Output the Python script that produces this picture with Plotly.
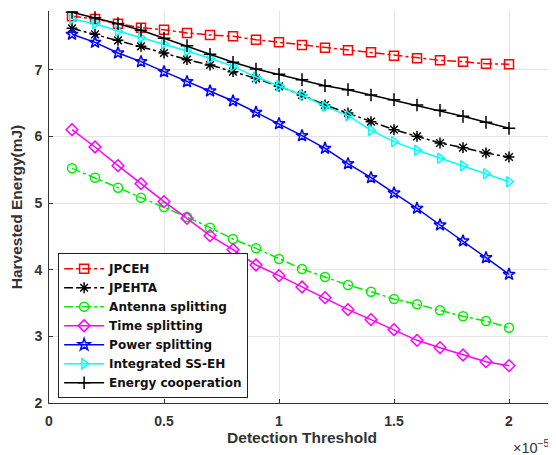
import plotly.graph_objects as go

threshold = [0.1, 0.2, 0.3, 0.4, 0.5, 0.6, 0.7, 0.8, 0.9, 1.0,
             1.1, 1.2, 1.3, 1.4, 1.5, 1.6, 1.7, 1.8, 1.9, 2.0]  # x 1e-5

jpceh = [7.80, 7.76, 7.69, 7.63, 7.60, 7.55, 7.52, 7.50, 7.45, 7.41,
         7.37, 7.33, 7.29, 7.26, 7.21, 7.17, 7.14, 7.12, 7.09, 7.08]
jpehta = [7.62, 7.53, 7.44, 7.35, 7.25, 7.15, 7.07, 6.97, 6.87, 6.75,
          6.62, 6.47, 6.35, 6.22, 6.10, 6.00, 5.90, 5.83, 5.75, 5.69]
antenna = [5.52, 5.38, 5.23, 5.08, 4.94, 4.79, 4.63, 4.46, 4.32, 4.16,
           4.01, 3.89, 3.77, 3.67, 3.56, 3.48, 3.39, 3.30, 3.23, 3.13]
time_split = [6.10, 5.84, 5.56, 5.29, 5.02, 4.77, 4.51, 4.30, 4.07, 3.91,
              3.74, 3.58, 3.40, 3.25, 3.10, 2.94, 2.83, 2.72, 2.62, 2.56]
power_split = [7.53, 7.41, 7.25, 7.12, 6.97, 6.82, 6.68, 6.53, 6.36, 6.19,
               6.01, 5.82, 5.59, 5.38, 5.15, 4.92, 4.67, 4.43, 4.18, 3.93]
integrated = [7.76, 7.69, 7.58, 7.48, 7.39, 7.28, 7.17, 7.05, 6.89, 6.76,
              6.62, 6.45, 6.31, 6.09, 5.92, 5.79, 5.67, 5.56, 5.44, 5.32]
energy_coop = [7.86, 7.78, 7.69, 7.59, 7.47, 7.36, 7.23, 7.11, 7.01, 6.93,
               6.85, 6.76, 6.70, 6.62, 6.55, 6.47, 6.39, 6.30, 6.21, 6.12]

x_ticks = [0, 0.5, 1, 1.5, 2]
x_tick_labels = ["0", "0.5", "1", "1.5", "2"]
y_ticks = [2, 3, 4, 5, 6, 7]

series = [
    ("JPCEH", jpceh, "#ff0000", "dashdot", "square-open"),
    ("JPEHTA", jpehta, "#000000", "dashdot", "asterisk-open"),
    ("Antenna splitting", antenna, "#00ee00", "dashdot", "circle-open"),
    ("Time splitting", time_split, "#ff00ff", "solid", "diamond-open"),
    ("Power splitting", power_split, "#0000ff", "solid", "star-open"),
    ("Integrated SS-EH", integrated, "#00ffff", "solid", "triangle-right-open"),
    ("Energy cooperation", energy_coop, "#000000", "solid", "cross-thin-open"),
]

fig = go.Figure()
for name, vals, color, dash, sym in series:
    fig.add_trace(go.Scatter(
        x=threshold, y=vals, name=name, mode="lines+markers",
        line=dict(color=color, width=1.5, dash=dash),
        marker=dict(symbol=sym, size=9, color=color,
                    line=dict(color=color, width=1.5)),
    ))

font_main = "Liberation Sans, Arial, sans-serif"
fig.update_layout(
    width=548, height=447,
    margin=dict(l=41, r=1, t=3, b=52),
    paper_bgcolor="white", plot_bgcolor="white",
    font=dict(family=font_main, size=13, color="#333333"),
    showlegend=True,
    legend=dict(
        x=0.018, y=0.382, xanchor="left", yanchor="top",
        bgcolor="white", bordercolor="#222222", borderwidth=1,
        font=dict(family="DejaVu Sans, sans-serif", size=12, color="#111111", weight="bold"),
        tracegroupgap=0, itemwidth=40,
    ),
    xaxis=dict(
        range=[0, 2.2], tickvals=x_ticks, ticktext=x_tick_labels,
        showgrid=True, gridcolor="#e4e4e4", gridwidth=1,
        showline=True, linecolor="#333333", linewidth=1, mirror=False,
        ticks="inside", ticklen=4, tickcolor="#333333",
        zeroline=False, ticklabelstandoff=5,
        tickfont=dict(family=font_main, size=14, color="#333333", weight="bold"),
        title=dict(text="Detection Threshold", standoff=4,
                   font=dict(family=font_main, size=15.5, color="#333333", weight="bold")),
    ),
    yaxis=dict(
        range=[2, 7.88], tickvals=y_ticks,
        showgrid=True, gridcolor="#e4e4e4", gridwidth=1,
        showline=True, linecolor="#333333", linewidth=1, mirror=True,
        ticks="inside", ticklen=4, tickcolor="#333333",
        zeroline=False, ticklabelstandoff=3,
        tickfont=dict(family=font_main, size=14, color="#333333", weight="bold"),
        title=dict(text="Harvested Energy(mJ)", standoff=10,
                   font=dict(family=font_main, size=15.5, color="#333333", weight="bold")),
    ),
    annotations=[dict(
        text="×10<sup>−5</sup>", xref="paper", yref="paper",
        x=0.913, y=-0.112, xanchor="left", yanchor="middle", showarrow=False,
        font=dict(family=font_main, size=14.5, color="#333333"),
    )],
)

fig.write_html("out.html")
